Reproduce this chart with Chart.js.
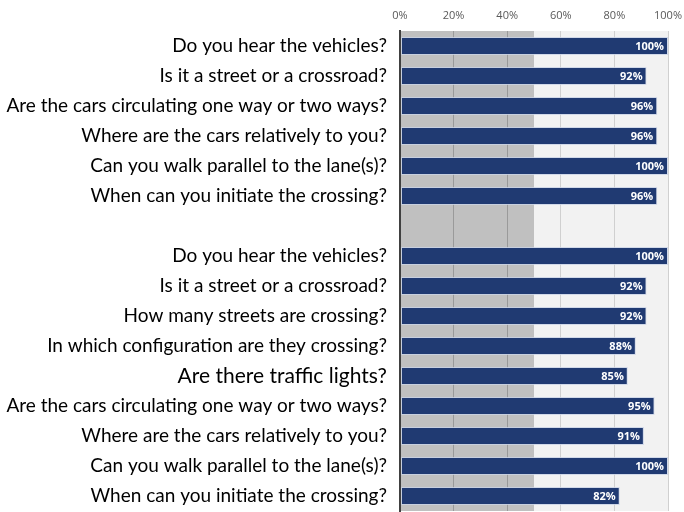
<!DOCTYPE html>
<html>
<head>
<meta charset="utf-8">
<script src="https://cdn.jsdelivr.net/npm/chart.js@4"></script>
<style>
  html, body { margin: 0; padding: 0; background: #fff; }
  #wrap { width: 684px; height: 512px; }
</style>
</head>
<body>
<div id="wrap"><canvas id="myChart"></canvas></div>
<script>
const questions = [
  'Do you hear the vehicles?',
  'Is it a street or a crossroad?',
  'Are the cars circulating one way or two ways?',
  'Where are the cars relatively to you?',
  'Can you walk parallel to the lane(s)?',
  'When can you initiate the crossing?',
  '',
  'Do you hear the vehicles?',
  'Is it a street or a crossroad?',
  'How many streets are crossing?',
  'In which configuration are they crossing?',
  'Are there traffic lights?',
  'Are the cars circulating one way or two ways?',
  'Where are the cars relatively to you?',
  'Can you walk parallel to the lane(s)?',
  'When can you initiate the crossing?'
];
const answered = [100, 92, 96, 96, 100, 96, null, 100, 92, 92, 88, 85, 95, 91, 100, 82];
const xTicks = [0, 20, 40, 60, 80, 100];
const shadeLimit = 50;

// gray band 0-50% and light background
const backdrop = {
  id: 'backdrop',
  beforeDraw(chart) {
    const {ctx, chartArea: a, scales: {x}} = chart;
    ctx.save();
    ctx.fillStyle = '#f2f2f2';
    ctx.fillRect(a.left, a.top, a.right - a.left, a.bottom - a.top);
    ctx.fillStyle = '#c0c0c0';
    const mid = x.getPixelForValue(shadeLimit);
    ctx.fillRect(a.left, a.top, mid - a.left, a.bottom - a.top);
    ctx.restore();
  }
};

// white percentage labels inside bar ends
const barLabels = {
  id: 'barLabels',
  afterDatasetsDraw(chart) {
    const {ctx} = chart;
    const meta = chart.getDatasetMeta(0);
    ctx.save();
    ctx.fillStyle = '#ffffff';
    ctx.font = 'bold 11px "Open Sans", sans-serif';
    ctx.textAlign = 'right';
    ctx.textBaseline = 'middle';
    meta.data.forEach((bar, i) => {
      if (answered[i] == null) return;
      ctx.fillText(answered[i] + '%', bar.x - 4, bar.y + 1);
    });
    ctx.restore();
  }
};

const config = {
  type: 'bar',
  data: {
    labels: questions,
    datasets: [{
      data: answered,
      backgroundColor: '#203a72',
      borderColor: 'rgba(200,210,230,0.8)',
      borderWidth: 1,
      borderSkipped: false,
      categoryPercentage: 1,
      barPercentage: 0.6
    }]
  },
  options: {
    indexAxis: 'y',
    responsive: true,
    maintainAspectRatio: false,
    animation: false,
    layout: {padding: {right: 16, top: 0, bottom: 1, left: 0}},
    plugins: {legend: {display: false}, tooltip: {enabled: false}},
    scales: {
      x: {
        position: 'top',
        min: 0, max: 100,
        afterBuildTicks: s => { s.ticks = xTicks.map(v => ({value: v})); },
        afterFit: s => { s.height = 31; s.paddingLeft = 0; s.paddingRight = 0; },
        ticks: {
          callback: v => v + '%',
          color: '#595959',
          font: {family: '"Open Sans", sans-serif', size: 11},
          padding: 9
        },
        grid: {
          color: c => c.tick && c.tick.value === 0 ? '#404040' : (c.tick && c.tick.value < shadeLimit ? '#9a9a9a' : '#d0d0d0'),
          lineWidth: c => c.tick && c.tick.value === 0 ? 2 : 1,
          drawTicks: false
        },
        border: {display: false}
      },
      y: {
        afterFit: s => { s.width = 400; s.paddingTop = 0; s.paddingBottom = 0; },
        ticks: {
          color: '#000',
          padding: 13,
          font: c => ({family: 'Lato, sans-serif', size: c.index === 11 ? 21 : 19})
        },
        grid: {display: false, drawTicks: false},
        border: {color: '#404040', width: 2}
      }
    }
  },
  plugins: [backdrop, barLabels]
};

const myChart = new Chart(document.getElementById('myChart'), config);
</script>
</body>
</html>
